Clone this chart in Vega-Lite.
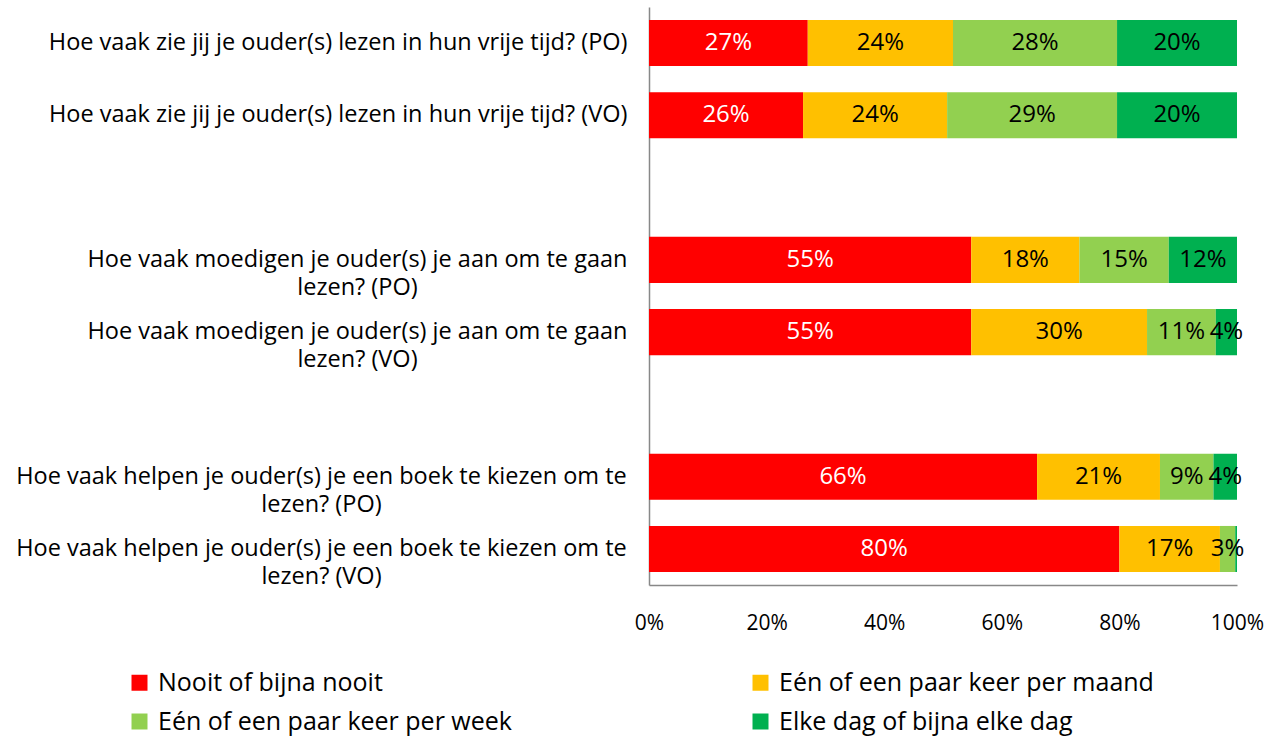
{
  "$schema": "https://vega.github.io/schema/vega-lite/v6.json",
  "width": 588,
  "height": 578,
  "autosize": "none",
  "padding": {"left": 649, "top": 7, "right": 47, "bottom": 168},
  "background": "white",
  "config": {
    "view": {"stroke": null},
    "font": "Open Sans",
    "text": {"font": "Open Sans"}
  },
  "data": {
    "values": [
      {"q": "Hoe vaak zie jij je ouder(s) lezen in hun vrije tijd?  (PO)", "cat": "Nooit of bijna nooit", "k": 1, "v": 27.0, "lbl": "27%"},
      {"q": "Hoe vaak zie jij je ouder(s) lezen in hun vrije tijd?  (PO)", "cat": "Eén of een paar keer per maand", "k": 2, "v": 24.7, "lbl": "24%"},
      {"q": "Hoe vaak zie jij je ouder(s) lezen in hun vrije tijd?  (PO)", "cat": "Eén of een paar keer per week", "k": 3, "v": 27.9, "lbl": "28%"},
      {"q": "Hoe vaak zie jij je ouder(s) lezen in hun vrije tijd?  (PO)", "cat": "Elke dag of bijna elke dag", "k": 4, "v": 20.4, "lbl": "20%"},
      {"q": "Hoe vaak zie jij je ouder(s) lezen in hun vrije tijd?  (VO)", "cat": "Nooit of bijna nooit", "k": 1, "v": 26.2, "lbl": "26%"},
      {"q": "Hoe vaak zie jij je ouder(s) lezen in hun vrije tijd?  (VO)", "cat": "Eén of een paar keer per maand", "k": 2, "v": 24.5, "lbl": "24%"},
      {"q": "Hoe vaak zie jij je ouder(s) lezen in hun vrije tijd?  (VO)", "cat": "Eén of een paar keer per week", "k": 3, "v": 28.9, "lbl": "29%"},
      {"q": "Hoe vaak zie jij je ouder(s) lezen in hun vrije tijd?  (VO)", "cat": "Elke dag of bijna elke dag", "k": 4, "v": 20.4, "lbl": "20%"},
      {"q": "Hoe vaak moedigen je ouder(s) je aan om te gaan|lezen?  (PO)", "cat": "Nooit of bijna nooit", "k": 1, "v": 54.8, "lbl": "55%"},
      {"q": "Hoe vaak moedigen je ouder(s) je aan om te gaan|lezen?  (PO)", "cat": "Eén of een paar keer per maand", "k": 2, "v": 18.4, "lbl": "18%"},
      {"q": "Hoe vaak moedigen je ouder(s) je aan om te gaan|lezen?  (PO)", "cat": "Eén of een paar keer per week", "k": 3, "v": 15.2, "lbl": "15%"},
      {"q": "Hoe vaak moedigen je ouder(s) je aan om te gaan|lezen?  (PO)", "cat": "Elke dag of bijna elke dag", "k": 4, "v": 11.6, "lbl": "12%"},
      {"q": "Hoe vaak moedigen je ouder(s) je aan om te gaan|lezen?  (VO)", "cat": "Nooit of bijna nooit", "k": 1, "v": 54.8, "lbl": "55%"},
      {"q": "Hoe vaak moedigen je ouder(s) je aan om te gaan|lezen?  (VO)", "cat": "Eén of een paar keer per maand", "k": 2, "v": 29.9, "lbl": "30%"},
      {"q": "Hoe vaak moedigen je ouder(s) je aan om te gaan|lezen?  (VO)", "cat": "Eén of een paar keer per week", "k": 3, "v": 11.7, "lbl": "11%"},
      {"q": "Hoe vaak moedigen je ouder(s) je aan om te gaan|lezen?  (VO)", "cat": "Elke dag of bijna elke dag", "k": 4, "v": 3.6, "lbl": "4%"},
      {"q": "Hoe vaak helpen je ouder(s) je een boek te kiezen om te|lezen?  (PO)", "cat": "Nooit of bijna nooit", "k": 1, "v": 66.0, "lbl": "66%"},
      {"q": "Hoe vaak helpen je ouder(s) je een boek te kiezen om te|lezen?  (PO)", "cat": "Eén of een paar keer per maand", "k": 2, "v": 20.9, "lbl": "21%"},
      {"q": "Hoe vaak helpen je ouder(s) je een boek te kiezen om te|lezen?  (PO)", "cat": "Eén of een paar keer per week", "k": 3, "v": 9.1, "lbl": "9%"},
      {"q": "Hoe vaak helpen je ouder(s) je een boek te kiezen om te|lezen?  (PO)", "cat": "Elke dag of bijna elke dag", "k": 4, "v": 4.0, "lbl": "4%"},
      {"q": "Hoe vaak helpen je ouder(s) je een boek te kiezen om te|lezen?  (VO)", "cat": "Nooit of bijna nooit", "k": 1, "v": 80.0, "lbl": "80%"},
      {"q": "Hoe vaak helpen je ouder(s) je een boek te kiezen om te|lezen?  (VO)", "cat": "Eén of een paar keer per maand", "k": 2, "v": 17.1, "lbl": "17%"},
      {"q": "Hoe vaak helpen je ouder(s) je een boek te kiezen om te|lezen?  (VO)", "cat": "Eén of een paar keer per week", "k": 3, "v": 2.6, "lbl": "3%"},
      {"q": "Hoe vaak helpen je ouder(s) je een boek te kiezen om te|lezen?  (VO)", "cat": "Elke dag of bijna elke dag", "k": 4, "v": 0.3, "lbl": ""}
    ]
  },
  "encoding": {
    "y": {
      "field": "q",
      "type": "nominal",
      "sort": null,
      "scale": {
        "domain": [
          "Hoe vaak zie jij je ouder(s) lezen in hun vrije tijd?  (PO)",
          "Hoe vaak zie jij je ouder(s) lezen in hun vrije tijd?  (VO)",
          " ",
          "Hoe vaak moedigen je ouder(s) je aan om te gaan|lezen?  (PO)",
          "Hoe vaak moedigen je ouder(s) je aan om te gaan|lezen?  (VO)",
          "  ",
          "Hoe vaak helpen je ouder(s) je een boek te kiezen om te|lezen?  (PO)",
          "Hoe vaak helpen je ouder(s) je een boek te kiezen om te|lezen?  (VO)"
        ],
        "paddingInner": 0.363,
        "paddingOuter": 0.18
      },
      "axis": {
        "title": null,
        "ticks": false,
        "tickSize": 0,
        "domainColor": "#888888",
        "domainWidth": 1.5,
        "labelFont": "Open Sans",
        "labelFontSize": 23.5,
        "labelColor": "#000000",
        "labelAlign": {
          "condition": {"test": "indexof(datum.value, '|') >= 0", "value": "center"},
          "value": "right"
        },
        "labelPadding": {
          "condition": [
            {"test": "indexof(datum.value, 'moedigen') >= 0", "value": 292},
            {"test": "indexof(datum.value, 'helpen') >= 0", "value": 328}
          ],
          "value": 22
        },
        "labelLimit": 700,
        "labelLineHeight": 28,
        "labelExpr": "split(datum.label, '|')"
      }
    },
    "x": {
      "field": "v",
      "type": "quantitative",
      "stack": "normalize",
      "scale": {"domain": [0, 1]},
      "axis": {
        "title": null,
        "format": ".0%",
        "values": [0, 0.2, 0.4, 0.6, 0.8, 1],
        "grid": false,
        "ticks": false,
        "tickSize": 0,
        "domainColor": "#888888",
        "domainWidth": 1.5,
        "labelFont": "Open Sans",
        "labelFontSize": 21,
        "labelColor": "#000000",
        "labelPadding": 27,
        "labelFlush": false
      }
    },
    "order": {"field": "k", "type": "quantitative"}
  },
  "layer": [
    {
      "mark": {"type": "bar"},
      "encoding": {
        "color": {
          "field": "cat",
          "type": "nominal",
          "scale": {
            "domain": ["Nooit of bijna nooit", "Eén of een paar keer per week", "Eén of een paar keer per maand", "Elke dag of bijna elke dag"],
            "range": ["#FF0000", "#92D050", "#FFC000", "#00B050"]
          },
          "legend": {
            "title": null,
            "orient": "none",
            "legendX": -522,
            "legendY": 663,
            "columns": 2,
            "columnPadding": 236,
            "rowPadding": 13,
            "symbolType": "square",
            "symbolSize": 256,
            "symbolStrokeWidth": 0,
            "labelFont": "Open Sans",
            "labelFontSize": 25,
            "labelColor": "#000000",
            "labelOffset": 6,
            "labelLimit": 600,
            "padding": 0
          }
        }
      }
    },
    {
      "mark": {"type": "text", "font": "Open Sans", "fontSize": 24, "baseline": "middle", "align": "center"},
      "encoding": {
        "x": {"field": "v", "type": "quantitative", "stack": "normalize", "bandPosition": 0.5},
        "detail": {"field": "cat", "type": "nominal"},
        "text": {"field": "lbl", "type": "nominal"},
        "color": {
          "condition": {"test": "datum.cat === 'Nooit of bijna nooit'", "value": "#FFFFFF"},
          "value": "#000000"
        }
      }
    }
  ]
}
